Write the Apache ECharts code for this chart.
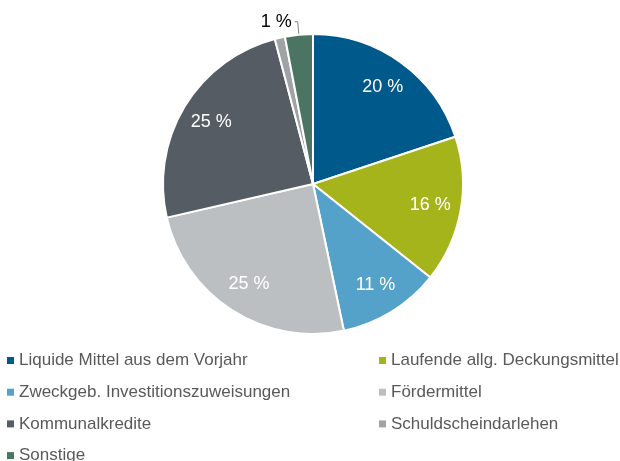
<!DOCTYPE html>
<html>
<head>
<meta charset="utf-8">
<script src="https://cdn.jsdelivr.net/npm/echarts@6/dist/echarts.min.js"></script>
<style>
  html, body { margin: 0; padding: 0; background: #fff; }
  #main { width: 620px; height: 461px; }
</style>
</head>
<body>
<div id="main"></div>
<script>
var names = ['Liquide Mittel aus dem Vorjahr', 'Laufende allg. Deckungsmittel', 'Zweckgeb. Investitionszuweisungen',
  'Fördermittel', 'Kommunalkredite', 'Schuldscheindarlehen', 'Sonstige'];
var values = [19.9, 15.8, 11.0, 24.7, 24.5, 1.1, 3.0];
var labels = ['20 %', '16 %', '11 %', '25 %', '25 %', '', '1 %'];
var colors = ['#00598b', '#a6b41b', '#54a1c9', '#bcbfc2', '#565c63', '#a0a3a6', '#4b7562'];

var leftNames = [names[0], names[2], names[4], names[6]];
var rightNames = [names[1], names[3], names[5]];

var myChart = echarts.init(document.getElementById('main'));

var pieData = [];
var labelData = [];
for (var i = 0; i < names.length; i++) {
  pieData.push({ name: names[i], value: values[i], itemStyle: { color: colors[i] } });
  var item = { name: names[i], value: values[i], label: { formatter: labels[i] } };
  if (i == 6) {
    // kleines Segment: Beschriftung außen mit Linie
    item.label = { show: true, position: 'outside', formatter: labels[i], color: '#000', distanceToLabelLine: 3 };
    item.labelLine = { show: true, length: 13, length2: 3, lineStyle: { color: '#808080', width: 1 } };
  }
  labelData.push(item);
}

var legendText = { color: '#595959', fontSize: 17, lineHeight: 17, fontFamily: 'Liberation Sans' };

var option = {
  backgroundColor: '#fff',
  animation: false,
  textStyle: { fontFamily: 'Liberation Sans' },
  legend: [
    {
      orient: 'vertical', left: 7, top: 352, height: 130, padding: 0,
      itemWidth: 7, itemHeight: 7, itemGap: 14.7, icon: 'rect',
      itemStyle: { borderWidth: 0 },
      data: leftNames, textStyle: legendText, selectedMode: false
    },
    {
      orient: 'vertical', left: 379, top: 352, height: 130, padding: 0,
      itemWidth: 7, itemHeight: 7, itemGap: 14.7, icon: 'rect',
      itemStyle: { borderWidth: 0 },
      data: rightNames, textStyle: legendText, selectedMode: false
    }
  ],
  series: [
    {
      type: 'pie',
      center: [313, 184],
      radius: [0, 150],
      startAngle: 90,
      clockwise: true,
      silent: true,
      label: { show: false },
      labelLine: { show: false },
      itemStyle: { borderColor: '#fff', borderWidth: 2 },
      emphasis: { disabled: true },
      data: pieData
    },
    {
      // nur für die Beschriftungen
      type: 'pie',
      center: [313, 184],
      radius: [82, 150],
      startAngle: 90,
      clockwise: true,
      silent: true,
      itemStyle: { color: 'rgba(0,0,0,0)' },
      label: { show: true, position: 'inside', color: '#fff', fontSize: 18, fontFamily: 'Liberation Sans' },
      labelLine: { show: false },
      emphasis: { disabled: true },
      data: labelData
    }
  ]
};
myChart.setOption(option);
</script>
</body>
</html>
